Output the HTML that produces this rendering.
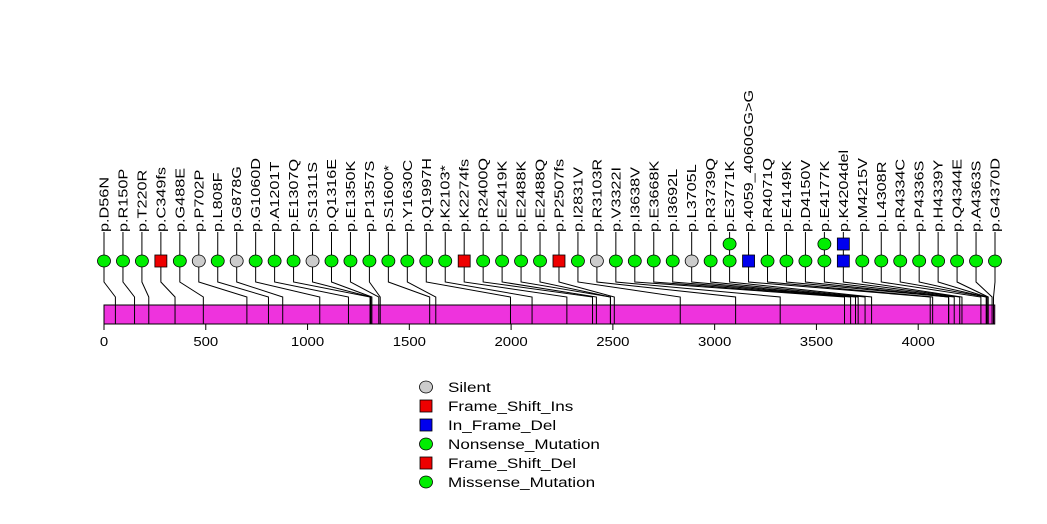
<!DOCTYPE html>
<html><head><meta charset="utf-8"><style>
html,body{margin:0;padding:0;background:#fff;width:1047px;height:524px;overflow:hidden}
svg{display:block;font-family:"Liberation Sans",sans-serif}
</style></head><body>
<svg id="chart" width="1047" height="524" viewBox="0 0 1047 524" xmlns="http://www.w3.org/2000/svg"></svg>
<script>
const labels=["p.D56N","p.R150P","p.T220R","p.C349fs","p.G488E","p.P702P","p.L808F","p.G878G","p.G1060D","p.A1201T","p.E1307Q","p.S1311S","p.Q1316E","p.E1350K","p.P1357S","p.S1600*","p.Y1630C","p.Q1997H","p.K2103*","p.K2274fs","p.R2400Q","p.E2419K","p.E2488K","p.E2488Q","p.P2507fs","p.I2831V","p.R3103R","p.V3322I","p.I3638V","p.E3668K","p.I3692L","p.L3705L","p.R3739Q","p.E3771K","p.4059_4060GG>G","p.R4071Q","p.E4149K","p.D4150V","p.E4177K","p.K4204del","p.M4215V","p.L4308R","p.R4334C","p.P4336S","p.H4339Y","p.Q4344E","p.A4363S","p.G4370D"];
const positions=[56,150,220,349,488,702,808,878,1060,1201,1307,1311,1316,1350,1357,1600,1630,1997,2103,2274,2400,2419,2488,2488,2507,2831,3103,3322,3638,3668,3692,3705,3739,3771,4059,4071,4149,4150,4177,4204,4215,4308,4334,4336,4339,4344,4363,4370];
const types=["m","m","m","f","m","s","m","s","m","m","m","s","m","m","m","m","m","m","m","f","m","m","m","m","f","m","s","m","m","m","m","s","m","m","d","m","m","m","m","d","m","m","m","m","m","m","m","m"];
const extras=[[33,"m"],[38,"m"],[39,"d"]];
const ticks=[0,500,1000,1500,2000,2500,3000,3500,4000];
const protLen=4376;
const legendNames=["Silent","Frame_Shift_Ins","In_Frame_Del","Nonsense_Mutation","Frame_Shift_Del","Missense_Mutation"];
const legendTypes=["s","f","d","m","f","m"];

const svg=document.getElementById('chart');
const NS="http://www.w3.org/2000/svg";
const x=v=>104+v*0.20355;
const mx=i=>104+i*(995-104)/(labels.length-1);
function el(t,a,p){const e=document.createElementNS(NS,t);for(const k in a)e.setAttribute(k,a[k]);(p||svg).appendChild(e);return e;}
const colors={m:"#00ee00",s:"#cccccc",f:"#ee0000",d:"#0000ee"};
function marker(type,cx,cy,name){
  let e;
  if(type==="f"||type==="d") e=el('rect',{x:cx-6,y:cy-6,width:12,height:12,fill:colors[type],stroke:"#000","stroke-width":0.8});
  else e=el('ellipse',{cx:cx,cy:cy,rx:6.5,ry:6,fill:colors[type],stroke:"#000","stroke-width":0.8});
  
  
}
const bar=el('rect',{x:x(0),y:305,width:x(protLen)-x(0),height:19,fill:"#ee33dd",stroke:"#000","stroke-width":1});


labels.forEach((lab,i)=>{
  const mxv=mx(i),px=x(positions[i]);
  const g=el('g',{});
  
  
  el('polyline',{points:`${mxv},232 ${mxv},255`,fill:"none",stroke:"#000","stroke-width":1},g);
  el('polyline',{points:`${mxv},267 ${mxv},282 ${px},297 ${px},324`,fill:"none",stroke:"#000","stroke-width":1},g);
  marker(types[i],mxv,261,'marker-'+i);
  const t=el('text',{x:0,y:0,transform:`translate(${mxv+4.5},232) rotate(-90) scale(1.3,1)`,"font-size":"12.5",fill:"#000"},g);
  t.textContent=lab;
  
  
});
extras.forEach(([i,tp],k)=>{marker(tp,mx(i),244,'stacked-marker-'+k);});
const ax=el('line',{x1:x(0),y1:324,x2:x(4000),y2:324,stroke:"#000"});


ticks.forEach(v=>{
  el('line',{x1:x(v),y1:324,x2:x(v),y2:330,stroke:"#000"});
  const t=el('text',{x:0,y:0,transform:`translate(${x(v)},346) scale(1.15,1)`,"text-anchor":"middle","font-size":"13",fill:"#000"});
  t.textContent=v;
  
  
});
legendNames.forEach((n,k)=>{
  const y=387+k*19;
  const g=el('g',{});
  
  
  const tp=legendTypes[k];
  if(tp==="f"||tp==="d") el('rect',{x:420,y:y-6,width:12,height:12,fill:colors[tp],stroke:"#000","stroke-width":0.8},g);
  else el('ellipse',{cx:426,cy:y,rx:6.5,ry:6,fill:colors[tp],stroke:"#000","stroke-width":0.8},g);
  const t=el('text',{x:0,y:0,transform:`translate(448,${y+5}) scale(1.22,1)`,"font-size":"14",fill:"#000"},g);
  t.textContent=n;
});
</script>
</body></html>
